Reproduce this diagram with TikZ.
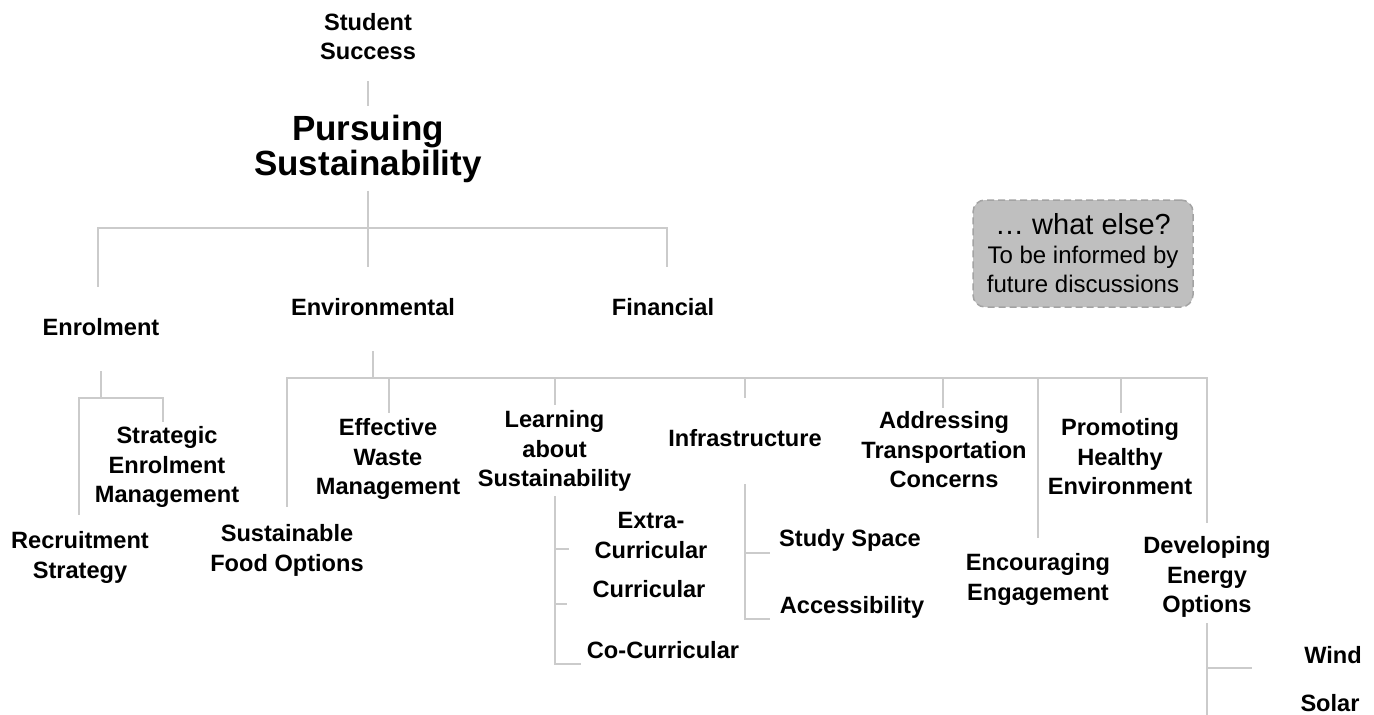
\documentclass[tikz,border=0pt]{standalone}
\usepackage{fontspec}
\setmainfont{Liberation Sans}
\definecolor{linkgray}{HTML}{CBCBCB}
\definecolor{notefill}{HTML}{BFBFBF}
\definecolor{notedraw}{HTML}{A3A3A3}
\tikzset{%
  topic/.style    = {anchor=north, align=center, inner sep=0pt,%
                     font=\fontsize{23.6}{29.3}\selectfont\bfseries},%
  headline/.style = {topic, font=\fontsize{35}{35}\selectfont\bfseries},%
  leaf/.style     = {topic},%
  note/.style     = {draw=notedraw, fill=notefill, line width=1.5pt,%
                     dash pattern=on 7pt off 4pt, rounded corners=12pt,%
                     minimum width=220pt, minimum height=107pt, inner sep=0pt,%
                     align=center, font=\fontsize{24}{29}\selectfont},%
  link/.style     = {draw=linkgray, line width=2pt}%
}

\begin{document}
\begin{tikzpicture}[x=1pt,y=-1pt]
  \useasboundingbox (0,0) rectangle (1374,715);
  \clip (0,0) rectangle (1374,715);
  % top
  \node[topic] (student) at (368,13) {Student\\Success};
  \node[headline] (pursue) at (368,115) {Pursuing\\Sustainability};
  \node[note] (whatelse) at (1083,253.5) {{\fontsize{29}{29}\selectfont … what else?}\\To be informed by\\future discussions};
  \node[topic] (enrol) at (101,318.5) {Enrolment};
  \node[topic] (env) at (373,298.5) {Environmental};
  \node[topic] (fin) at (663,298.5) {Financial};
  % enrolment
  \node[topic] (recruit) at (80,531.5) {Recruitment\\Strategy};
  \node[topic] (strat) at (167,426.5) {Strategic\\Enrolment\\Management};
  % environmental
  \node[topic] (food) at (287,524.5) {Sustainable\\Food Options};
  \node[topic] (waste) at (388,418.5) {Effective\\Waste\\Management};
  \node[topic] (learn) at (554.5,410.5) {Learning\\about\\Sustainability};
  \node[topic] (infra) at (745,429.5) {Infrastructure};
  \node[topic] (transp) at (944,411.5) {Addressing\\Transportation\\Concerns};
  \node[topic] (engage) at (1038,553.5) {Encouraging\\Engagement};
  \node[topic] (healthy) at (1120,418.5) {Promoting\\Healthy\\Environment};
  \node[topic] (energy) at (1207,536.5) {Developing\\Energy\\Options};
  % leaves
  \node[leaf] (extra) at (651,512.5) {Extra-\\Curricular};
  \node[leaf] (curr) at (649,580.5) {Curricular};
  \node[leaf] (cocurr) at (663,641.5) {Co-Curricular};
  \node[leaf] (study) at (850,529.5) {Study Space};
  \node[leaf] (access) at (852,596.5) {Accessibility};
  \node[leaf] (wind) at (1333,646.5) {Wind};
  \node[leaf] (solar) at (1330,694.5) {Solar};

  \coordinate (j0) at (368,228);
  \coordinate (jen) at (101,398);
  \coordinate (jenv) at (373,378);

  \draw[link, shorten <=21pt, shorten >=9pt] (student.south) -- (pursue.north);
  \draw[link, shorten <=7.6pt] (pursue.south) -- (j0);
  \draw[link, shorten >=31.5pt] (j0) -| ([xshift=-3pt]enrol.north);
  \draw[link, shorten >=31.5pt] (j0) -| ([xshift=-5pt]env.north);
  \draw[link, shorten >=31.5pt] (j0) -| ([xshift=4pt]fin.north);

  \draw[link, shorten <=35pt] (enrol.south) -- (jen);
  \draw[link, shorten >=16.5pt] (jen) -| ([xshift=-1pt]recruit.north);
  \draw[link, shorten >=4.5pt] (jen) -| ([xshift=-4pt]strat.north);

  \draw[link, shorten <=35pt] (env.south) -- (jenv);
  \draw[link, shorten >=17.5pt] (jenv) -| (food.north);
  \draw[link, shorten >=5.5pt] (jenv) -| ([xshift=1pt]waste.north);
  \draw[link, shorten >=5.5pt] (jenv) -| ([xshift=0.5pt]learn.north);
  \draw[link, shorten >=31.5pt] (jenv) -| (infra.north);
  \draw[link, shorten >=3.5pt] (jenv) -| ([xshift=-1pt]transp.north);
  \draw[link, shorten >=15.5pt] (jenv) -| (engage.north);
  \draw[link, shorten >=5.5pt] (jenv) -| ([xshift=1pt]healthy.north);
  \draw[link, shorten >=13.5pt] (jenv) -| (energy.north);

  \draw[link, shorten <=4.6pt] ([xshift=0.5pt]learn.south) |- ([shift={(-25pt,-13.6pt)}]extra.west);
  \draw[link, shorten <=4.6pt] ([xshift=0.5pt]learn.south) |- ([shift={(-25pt,-14.25pt)}]curr.west);
  \draw[link, shorten <=4.6pt] ([xshift=0.5pt]learn.south) |- ([shift={(-5.9pt,-13.25pt)}]cocurr.west);
  \draw[link, shorten <=37pt] (infra.south) |- ([shift={(-9pt,-11.85pt)}]study.west);
  \draw[link, shorten <=37pt] (infra.south) |- ([shift={(-9.7pt,-10.85pt)}]access.west);
  \draw[link, shorten <=5.6pt] (energy.south) |- ([shift={(-51.8pt,-12.25pt)}]wind.west);
  \draw[link, shorten <=5.6pt] (energy.south) |- ([shift={(-51.8pt,-14.25pt)}]solar.west);
\end{tikzpicture}
\end{document}
